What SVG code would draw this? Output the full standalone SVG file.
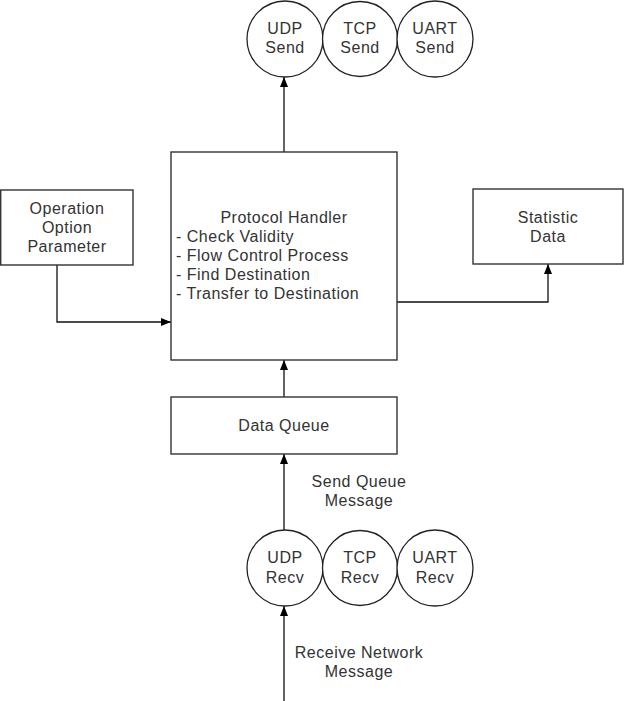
<svg xmlns="http://www.w3.org/2000/svg" width="625" height="701" viewBox="0 0 625 701">
<style>
.box{fill:#fff;stroke:#333;stroke-width:1.4}
.c{fill:#fff;stroke:#222;stroke-width:1.3}
.t{font-family:"Liberation Sans",Arial,sans-serif;font-size:16px;letter-spacing:0.5px;fill:#333;text-anchor:middle}
.l{text-anchor:start}
.e{fill:none;stroke:#111;stroke-width:1.3}
</style>
<defs>
<marker id="a" viewBox="0 0 10 8" refX="10" refY="4" markerWidth="10" markerHeight="8" markerUnits="userSpaceOnUse" orient="auto">
<path d="M0,0L10,4L0,8Z" fill="#000"/>
</marker>
</defs>
<rect width="625" height="701" fill="#fff"/>
<g id="connectors">
<path class="e" d="M284,152V77" marker-end="url(#a)"/>
<path class="e" d="M57,265V322H171" marker-end="url(#a)"/>
<path class="e" d="M397,302H548V264" marker-end="url(#a)"/>
<path class="e" d="M284,397V360" marker-end="url(#a)"/>
<path class="e" d="M284,530V454" marker-end="url(#a)"/>
<path class="e" d="M284,701V606" marker-end="url(#a)"/>
</g>
<g id="udp-send"><circle class="c" cx="285" cy="39" r="38"/><text class="t" x="285" y="34">UDP</text><text class="t" x="285" y="53">Send</text></g>
<g id="tcp-send"><circle class="c" cx="360" cy="39" r="37.5"/><text class="t" x="360" y="34">TCP</text><text class="t" x="360" y="53">Send</text></g>
<g id="uart-send"><circle class="c" cx="435" cy="39" r="38"/><text class="t" x="435" y="34">UART</text><text class="t" x="435" y="53">Send</text></g>
<g id="operation"><rect class="box" x="0.7" y="190" width="132.3" height="75"/><text class="t" x="67" y="214">Operation</text><text class="t" x="67" y="233">Option</text><text class="t" x="67" y="252">Parameter</text></g>
<g id="protocol-handler"><rect class="box" x="171" y="152" width="226" height="208"/>
<text class="t" x="284" y="223">Protocol Handler</text>
<text class="t l" x="176" y="242">- Check Validity</text>
<text class="t l" x="176" y="261">- Flow Control Process</text>
<text class="t l" x="176" y="280">- Find Destination</text>
<text class="t l" x="176" y="299">- Transfer to Destination</text></g>
<g id="statistic"><rect class="box" x="473" y="189" width="150" height="75"/><text class="t" x="548" y="223">Statistic</text><text class="t" x="548" y="242">Data</text></g>
<g id="data-queue"><rect class="box" x="171" y="397" width="226" height="57"/><text class="t" x="284" y="431">Data Queue</text></g>
<text class="t" x="359" y="487">Send Queue</text><text class="t" x="359" y="506">Message</text>
<g id="udp-recv"><circle class="c" cx="285" cy="568" r="38"/><text class="t" x="285" y="563">UDP</text><text class="t" x="285" y="583">Recv</text></g>
<g id="tcp-recv"><circle class="c" cx="360" cy="568" r="37.5"/><text class="t" x="360" y="563">TCP</text><text class="t" x="360" y="583">Recv</text></g>
<g id="uart-recv"><circle class="c" cx="435" cy="568" r="38"/><text class="t" x="435" y="563">UART</text><text class="t" x="435" y="583">Recv</text></g>
<text class="t" x="359" y="658">Receive Network</text><text class="t" x="359" y="677">Message</text>
</svg>
